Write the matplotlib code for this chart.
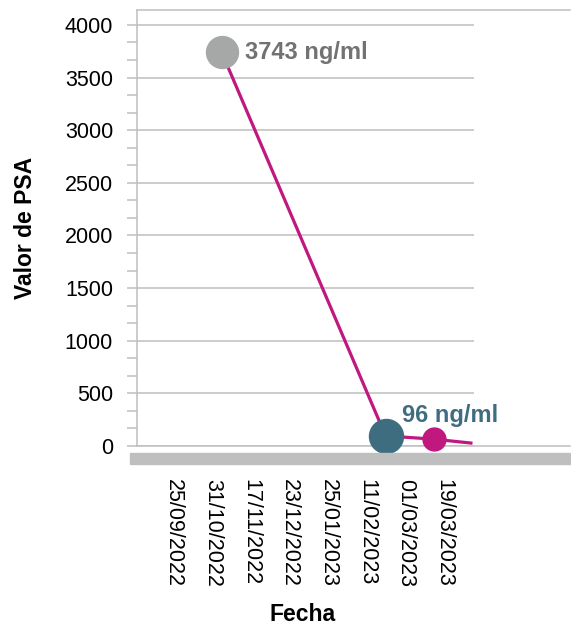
import matplotlib
matplotlib.use("Agg")
import matplotlib.pyplot as plt
from matplotlib.patches import Rectangle
from matplotlib.ticker import MultipleLocator

plt.rcParams["font.family"] = ["Liberation Sans", "DejaVu Sans"]

# data
date_labels = [
    "25/09/2022", "31/10/2022", "17/11/2022", "23/12/2022",
    "25/01/2023", "11/02/2023", "01/03/2023", "19/03/2023",
]
line_x = [1.24, 5.49, 6.74, 7.7]
line_psa = [3743, 96, 65, 28]
first_x, first_psa = 1.24, 3743
nadir_x, nadir_psa = 5.49, 96
last_x, last_psa = 6.74, 65

GRID = "#bfbfbf"
MAGENTA = "#c0187f"
TEAL = "#3f6d80"
GREY_DOT = "#a6a8a8"
GREY_TEXT = "#727272"

W, H = 571, 625
fig = plt.figure(figsize=(W / 100, H / 100), dpi=100)
left, right, top, bottom = 137, 474, 10, 446
ax = fig.add_axes([left / W, 1 - bottom / H, (right - left) / W, (bottom - top) / H])

ax.set_xlim(-0.95, 7.78)
ax.set_ylim(0, 4142)

ax.plot(line_x, line_psa, color=MAGENTA, lw=2.3, zorder=3, clip_on=False)
ax.plot(first_x, first_psa, "o", ms=23, color=GREY_DOT, zorder=4, clip_on=False)
ax.plot(nadir_x, nadir_psa, "o", ms=24.5, color=TEAL, zorder=4, clip_on=False)
ax.plot(last_x, last_psa, "o", ms=16.5, color=MAGENTA, zorder=4, clip_on=False)

ax.annotate(f"{first_psa} ng/ml", xy=(first_x, first_psa), xytext=(17, 0),
            textcoords="offset points", va="center", ha="left",
            fontsize=17, fontweight="bold", color=GREY_TEXT)
ax.annotate(f"{nadir_psa} ng/ml", xy=(nadir_x, nadir_psa), xytext=(11.5, 15),
            textcoords="offset points", va="center", ha="left",
            fontsize=17, fontweight="bold", color=TEAL)

# axes styling
for side in ["top", "right", "bottom"]:
    ax.spines[side].set_visible(False)
ax.spines["left"].set_color(GRID)
ax.spines["left"].set_linewidth(1.1)

ax.set_yticks(range(0, 4001, 500))
ax.yaxis.set_minor_locator(MultipleLocator(500 / 3))
ax.tick_params(axis="y", which="both", length=7.2, width=1.1, color=GRID,
               labelsize=15.5, pad=10)
ax.yaxis.grid(True, color=GRID, lw=1.1)
ax.set_axisbelow(True)

ax.set_xticks(range(len(date_labels)))
ax.set_xticklabels(date_labels, rotation=-90)
ax.tick_params(axis="x", length=0, labelsize=15.5, pad=24)

# lines reaching beyond the plot area
ext = (570 - left) / (right - left)
ax.plot([0, ext], [1, 1], transform=ax.transAxes, color=GRID, lw=1.1, clip_on=False)
ax.plot([0, ext], [0, 0], transform=ax.transAxes, color=GRID, lw=1.1, clip_on=False)
fig.patches.append(Rectangle((130 / W, 1 - 464 / H), 440 / W, 11 / H,
                             transform=fig.transFigure, color=GRID, zorder=0))

ax.set_xlabel("Fecha", fontsize=16.5, fontweight="bold")
ax.xaxis.set_label_coords(0.49, -0.36)
ax.set_ylabel("Valor de PSA", fontsize=16.5, fontweight="bold")
ax.yaxis.set_label_coords(-0.297, 0.5)

fig.savefig("out.png", dpi=100)
